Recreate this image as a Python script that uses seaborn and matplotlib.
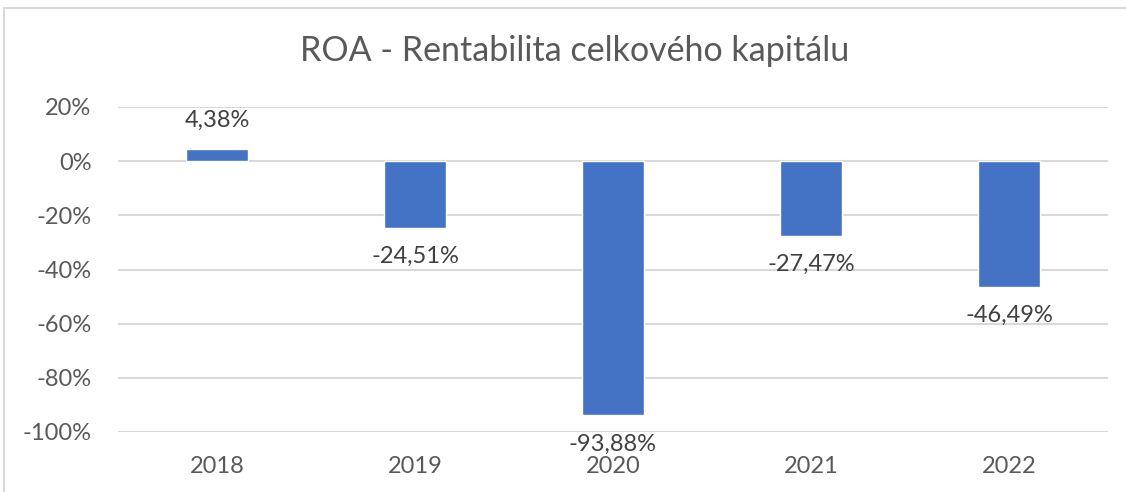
import matplotlib.pyplot as plt
import seaborn as sns
import pandas as pd
from matplotlib.patches import Rectangle

# data
years = ["2018", "2019", "2020", "2021", "2022"]
roa = [4.38, -24.51, -93.88, -27.47, -46.49]
labels = ["4,38%", "-24,51%", "-93,88%", "-27,47%", "-46,49%"]

df = pd.DataFrame({"rok": years, "roa": roa})

sns.set_theme(style="white")
plt.rcParams["font.family"] = ["Lato", "DejaVu Sans"]

fig = plt.figure(figsize=(11.26, 4.92), dpi=100)
# chart border
fig.patches.append(Rectangle((4 / 1126, -0.01), 1.2, 1 - 8 / 492 + 0.01,
                             transform=fig.transFigure, fill=False,
                             edgecolor="#d9d9d9", linewidth=1.5))

ax = fig.add_axes([118 / 1126, 1 - 432 / 492, 990 / 1126, 325 / 492])
sns.barplot(data=df, x="rok", y="roa", color="#4472c4", width=0.31,
            saturation=1, ax=ax)

ax.set_ylim(-100, 20)
ax.set_yticks(range(-100, 21, 20))
ax.set_yticklabels([f"{t}%" for t in range(-100, 21, 20)])
ax.yaxis.grid(True, color="#d9d9d9", linewidth=1.5)
ax.set_axisbelow(True)
for s in ax.spines.values():
    s.set_visible(False)
ax.set_xlabel("")
ax.set_ylabel("")
ax.tick_params(axis="both", length=0, labelsize=17, labelcolor="#595959")
ax.tick_params(axis="x", pad=17)
ax.tick_params(axis="y", pad=19)

ax.bar_label(ax.containers[0], labels=labels, padding=13,
             fontsize=17, color="#404040")

fig.text(575 / 1126, 1 - 51 / 492, "ROA - Rentabilita celkového kapitálu",
         ha="center", va="center", fontsize=24.5, color="#595959")

fig.savefig("out.png", dpi=100)
